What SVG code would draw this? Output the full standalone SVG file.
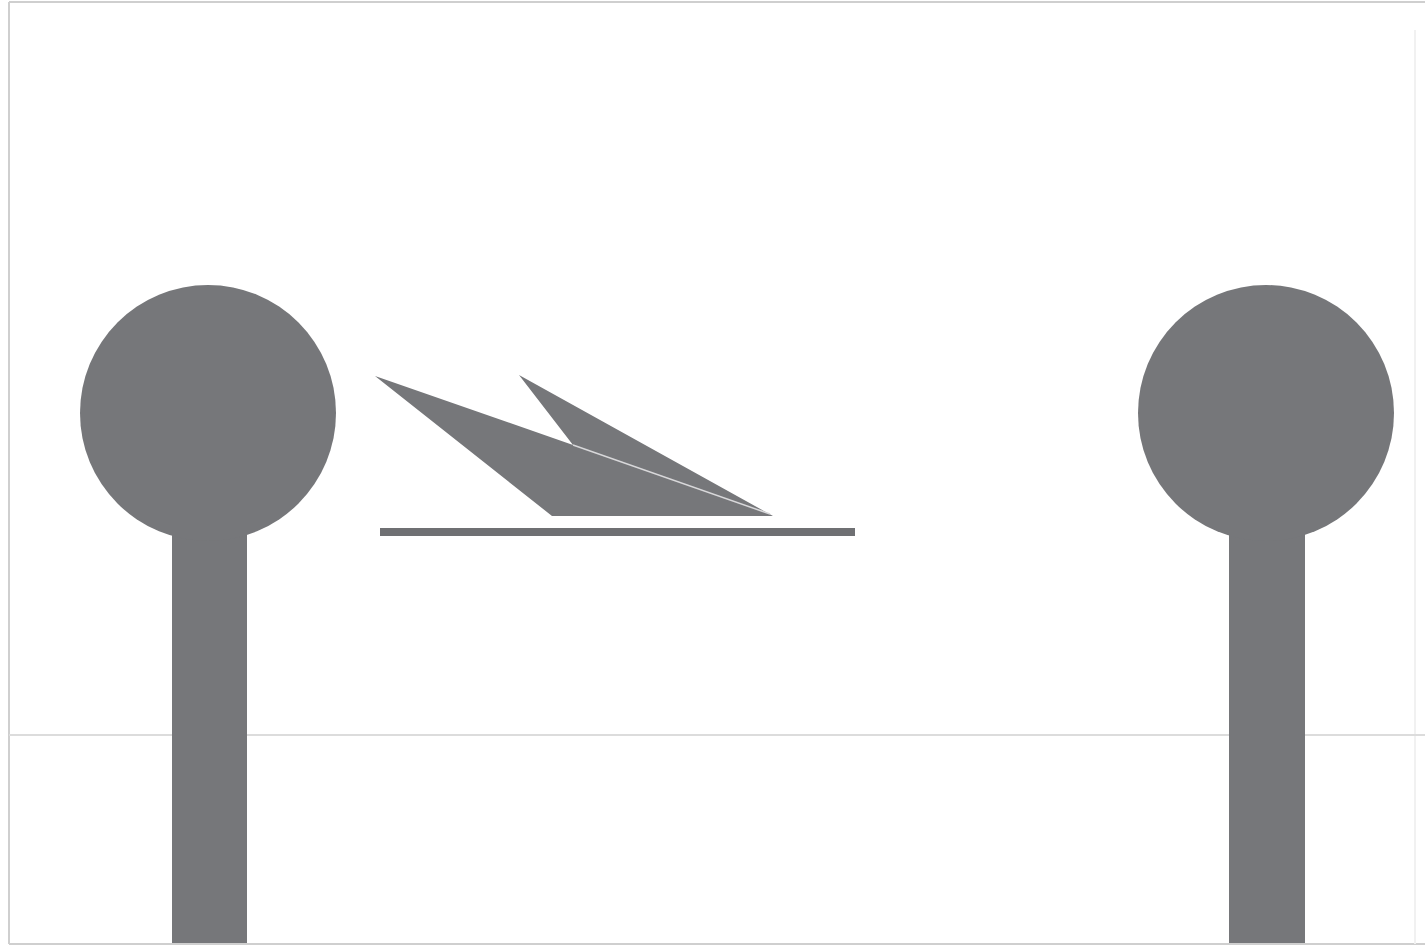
<svg xmlns="http://www.w3.org/2000/svg" width="1425" height="947" viewBox="0 0 1425 947">
<style>
.frame{stroke:#cfcfcf;stroke-width:2;fill:none}
.faint{stroke:#f1f1f1;stroke-width:2}
.guide{stroke:#dcdcdc;stroke-width:2}
.shape{fill:#76777a}
.crease{stroke:#d8d8da;stroke-width:1.5}
</style>
<rect width="1425" height="947" fill="#ffffff"/>
<g id="frame">
<line class="frame" x1="9" y1="2" x2="1425" y2="2"/>
<line class="frame" x1="9" y1="2" x2="9" y2="944"/>
<line class="frame" x1="9" y1="944" x2="1425" y2="944"/>
<line class="faint" x1="1415" y1="30" x2="1415" y2="944"/>
<line class="guide" x1="9" y1="735" x2="1425" y2="735"/>
</g>
<g id="left-post">
<rect class="shape" x="172" y="500" width="75" height="443"/>
<circle class="shape" cx="208" cy="413" r="128"/>
</g>
<g id="right-post">
<rect class="shape" x="1229" y="500" width="76" height="443"/>
<circle class="shape" cx="1266" cy="413" r="128"/>
</g>
<g id="plane">
<polygon class="shape" points="375,376 552,516 773,516 519,375 573,445"/>
<line class="crease" x1="573" y1="445" x2="770" y2="514"/>
</g>
<g id="runway">
<line x1="380" y1="532" x2="855" y2="532" stroke="#6f7073" stroke-width="8"/>
</g>
</svg>
